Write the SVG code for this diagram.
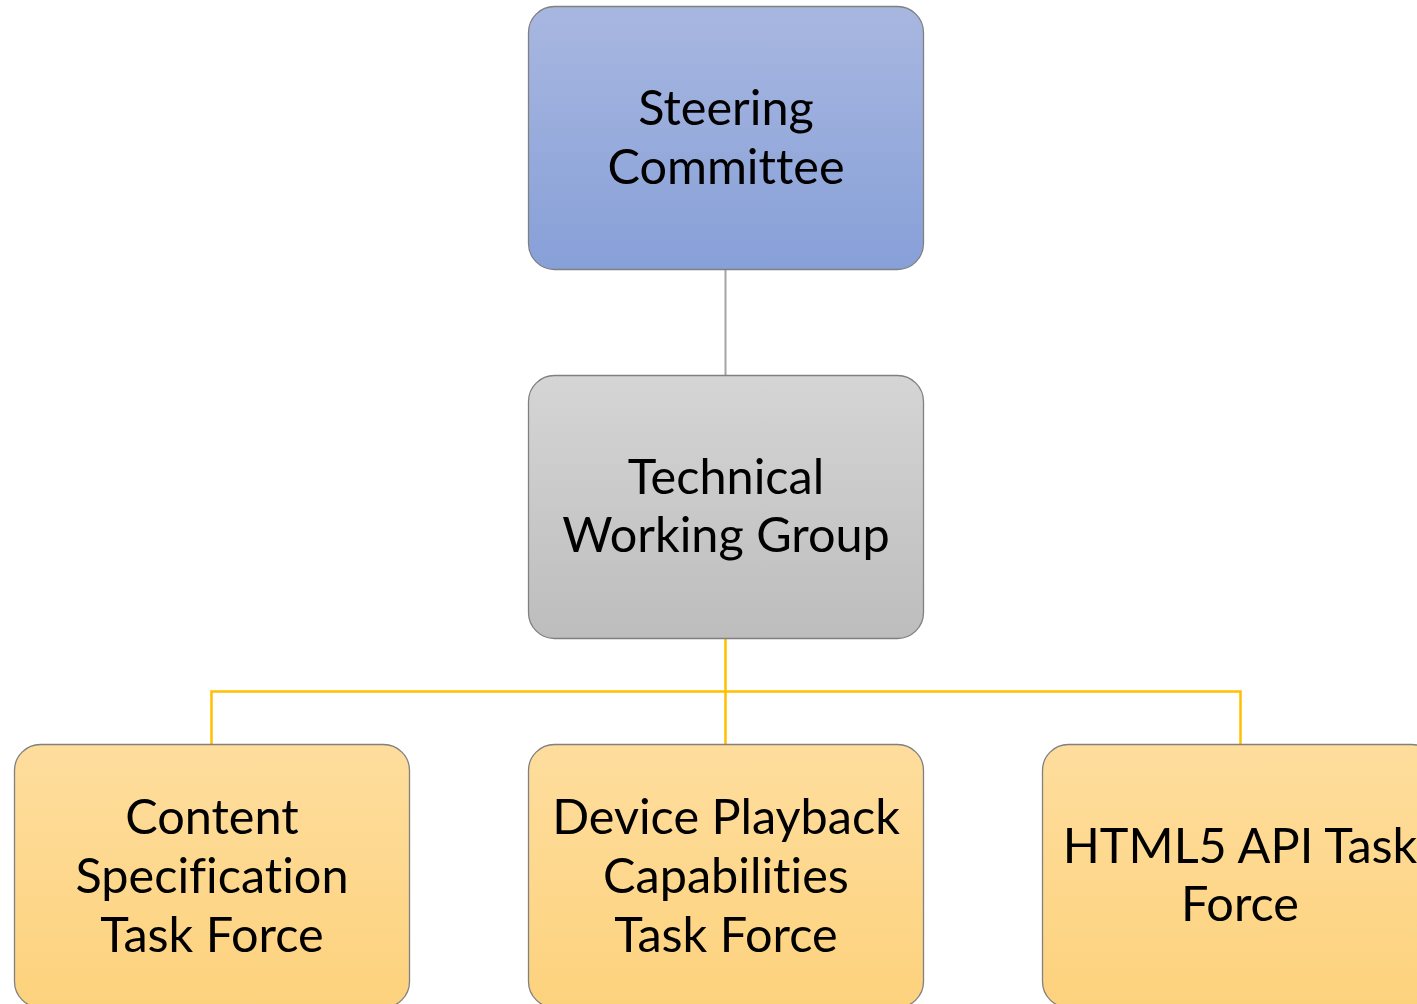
<svg xmlns="http://www.w3.org/2000/svg" width="1417" height="1004" viewBox="0 0 1417 1004">
  <defs>
    <linearGradient id="gBlue" x1="0" y1="0" x2="0" y2="1">
      <stop offset="0" stop-color="#a8b7e0"/>
      <stop offset="1" stop-color="#87a0d8"/>
    </linearGradient>
    <linearGradient id="gGray" x1="0" y1="0" x2="0" y2="1">
      <stop offset="0" stop-color="#d5d5d5"/>
      <stop offset="1" stop-color="#bdbdbd"/>
    </linearGradient>
    <linearGradient id="gGold" x1="0" y1="0" x2="0" y2="1">
      <stop offset="0" stop-color="#fedd9d"/>
      <stop offset="1" stop-color="#fdd27d"/>
    </linearGradient>
  </defs>
  <style>
    .box { stroke: #808080; stroke-width: 1.3; }
    .lbl { font-family: Lato, "Open Sans", "Liberation Sans", sans-serif; font-size: 48.6px; fill: #000; text-anchor: middle; font-variant-ligatures: none; font-feature-settings: "liga" 0; }
    .link-gray { stroke: #a5a5a5; stroke-width: 2; fill: none; }
    .link-gold { stroke: #ffc000; stroke-width: 2.5; fill: none; }
  </style>
  <rect width="1417" height="1004" fill="#ffffff"/>

  <g id="connectors">
    <line class="link-gray" x1="725.5" y1="269" x2="725.5" y2="375"/>
    <path class="link-gold" d="M725.5 638 V691.5 M211.5 744 V691.5 H1240.5 V744 M725.5 691.5 V744"/>
  </g>

  <g id="steering">
    <rect class="box" x="528.5" y="6.5" width="395" height="263" rx="26" fill="url(#gBlue)"/>
    <text class="lbl" x="726" y="125">Steering</text>
    <text class="lbl" x="726" y="184">Committee</text>
  </g>

  <g id="twg">
    <rect class="box" x="528.5" y="375.5" width="395" height="263" rx="26" fill="url(#gGray)"/>
    <text class="lbl" x="726" y="494">Technical</text>
    <text class="lbl" x="726" y="552">Working Group</text>
  </g>

  <g id="content-tf">
    <rect class="box" x="14.5" y="744.5" width="395" height="263" rx="26" fill="url(#gGold)"/>
    <text class="lbl" x="212" y="834">Content</text>
    <text class="lbl" x="212" y="893">Specification</text>
    <text class="lbl" x="212" y="952">Task Force</text>
  </g>

  <g id="device-tf">
    <rect class="box" x="528.5" y="744.5" width="395" height="263" rx="26" fill="url(#gGold)"/>
    <text class="lbl" x="726" y="834">Device Playback</text>
    <text class="lbl" x="726" y="893">Capabilities</text>
    <text class="lbl" x="726" y="952">Task Force</text>
  </g>

  <g id="html5-tf">
    <rect class="box" x="1042.5" y="744.5" width="395" height="263" rx="26" fill="url(#gGold)"/>
    <text class="lbl" x="1240" y="863">HTML5 API Task</text>
    <text class="lbl" x="1240" y="921">Force</text>
  </g>
</svg>
